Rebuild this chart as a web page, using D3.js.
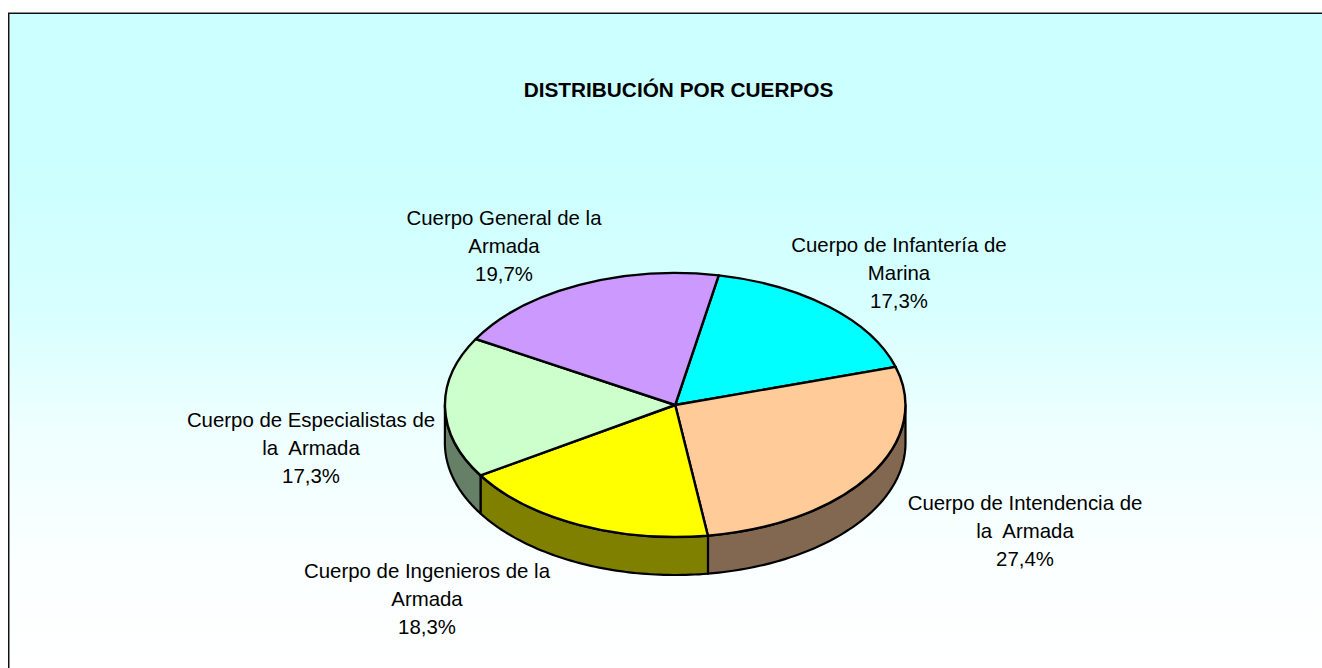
<!DOCTYPE html>
<html><head><meta charset="utf-8">
<script src="https://cdn.jsdelivr.net/npm/d3@7"></script>
<style>
html,body{margin:0;padding:0;background:#fff;overflow:hidden}
svg{display:block}
text{font-family:"Liberation Sans",Arial,sans-serif;fill:#000;white-space:pre}
</style></head><body>
<svg id="c" width="1322" height="668"></svg>
<script>
const chartTitle = "DISTRIBUCIÓN POR CUERPOS";
const categories = ["Cuerpo de Infantería de Marina","Cuerpo de Intendencia de la  Armada","Cuerpo de Ingenieros de la Armada","Cuerpo de Especialistas de la  Armada","Cuerpo General de la Armada"];
const labelLines = [["Cuerpo de Infantería de","Marina"],["Cuerpo de Intendencia de","la  Armada"],["Cuerpo de Ingenieros de la","Armada"],["Cuerpo de Especialistas de","la  Armada"],["Cuerpo General de la","Armada"]];
const values = [17.3,27.4,18.3,17.3,19.7];
const topColors = ["#00FFFF","#FFCC99","#FFFF00","#CCFFCC","#CC99FF"];
const sideColors = ["#008080","#826850","#808000","#668068","#664C80"];
const labelAnchors = [[899,244],[1025,502],[427,570],[311,419],[504,217]];
const gradientStops = [[0,"#CCFFFF"],[0.25,"#CCFFFF"],[0.48,"#D9FFFF"],[0.64,"#EEFFFF"],[0.83,"#FAFFFF"],[1,"#FFFFFF"]];

const W=1322,H=668;
const cx=675.2,cy=405,rx=230.3,ry=132,depth=38,lineH=28.3;
const svg=d3.select("#c");
const defs=svg.append("defs");
const g=defs.append("linearGradient").attr("id","bg").attr("gradientUnits","userSpaceOnUse").attr("x1",0).attr("y1",0).attr("x2",0).attr("y2",H);
gradientStops.forEach(s=>g.append("stop").attr("offset",s[0]).attr("stop-color",s[1]));
svg.append("rect").attr("x",9).attr("y",13).attr("width",W).attr("height",H).attr("fill","url(#bg)");
svg.append("line").attr("x1",8).attr("x2",W).attr("y1",12.5).attr("y2",12.5).attr("stroke","#8a8a8a");
svg.append("line").attr("x1",8).attr("x2",W).attr("y1",13.5).attr("y2",13.5).attr("stroke","#111");
svg.append("line").attr("x1",8.5).attr("x2",8.5).attr("y1",13).attr("y2",H).attr("stroke","#111");
svg.append("line").attr("x1",9.5).attr("x2",9.5).attr("y1",14).attr("y2",H).attr("stroke","#8a8a8a");

svg.append("text").attr("x",678.5).attr("y",96.5).attr("text-anchor","middle").attr("font-weight","bold").attr("font-size",20.8).text(chartTitle);

const pie=d3.pie().sort(null).value(d=>d).startAngle(10.9*Math.PI/180).endAngle((360+10.9)*Math.PI/180);
const arcs=pie(values);
const sx=d3.scaleLinear().domain([-1,1]).range([cx-rx,cx+rx]);
const sy=d3.scaleLinear().domain([-1,1]).range([cy-ry,cy+ry]);
const wallLine=d3.line().x(d=>sx(d[0])).y(d=>sy(d[1])+d[2]);
// front walls: clockwise angle from top, visible between 90 and 270 degrees
arcs.forEach((a,i)=>{
  const s=Math.max(a.startAngle,Math.PI/2), e=Math.min(a.endAngle,3*Math.PI/2);
  if(e<=s) return;
  const ang=d3.range(0,61).map(k=>s+(e-s)*k/60);
  const pts=ang.map(t=>[Math.sin(t),-Math.cos(t),0]).concat(ang.slice().reverse().map(t=>[Math.sin(t),-Math.cos(t),depth]));
  svg.append("path").attr("d",wallLine(pts)+"Z").attr("fill",sideColors[i]).attr("stroke","#000").attr("stroke-width",2.2).attr("stroke-linejoin","round");
});
const arcGen=d3.arc().innerRadius(0).outerRadius(1);
const topFace=svg.append("g").attr("transform",`translate(${cx},${cy}) scale(${rx},${ry})`);
topFace.selectAll("path").data(arcs).join("path").attr("d",arcGen).attr("fill",(d,i)=>topColors[i]).attr("stroke","#000").attr("stroke-width",2.4).attr("stroke-linejoin","round").attr("vector-effect","non-scaling-stroke");

labelLines.forEach((lines,i)=>{
  const [x,y]=labelAnchors[i];
  const all=lines.concat([d3.format(".1f")(values[i]).replace(".",",")+"%"]);
  all.forEach((t,k)=>svg.append("text").attr("x",x).attr("y",y+k*lineH+7.5).attr("text-anchor","middle").attr("font-size",20.4).attr("fill","#111").text(t));
});
</script></body></html>
